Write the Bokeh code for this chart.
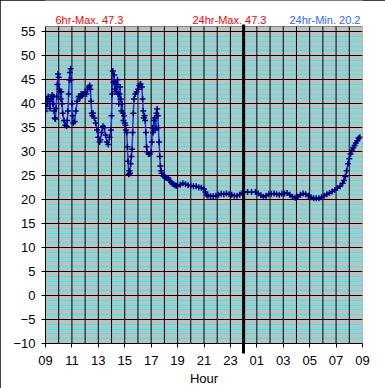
from bokeh.plotting import figure
from bokeh.models import Range1d, FixedTicker, Label
from bokeh.embed import file_html
from bokeh.resources import INLINE

# ---- data (hours after 09:00, temperature) ----
hours = [0.00, 0.05, 0.10, 0.15, 0.20, 0.30, 0.35, 0.40, 0.50, 0.55, 0.60, 0.65, 0.70, 0.75,
         0.80, 0.85, 0.90, 0.95, 1.00, 1.05, 1.10, 1.15, 1.20, 1.25, 1.30, 1.40, 1.50, 1.60,
         1.65, 1.70, 1.75, 1.80, 1.85, 1.90, 1.95, 2.00, 2.05, 2.10, 2.20, 2.30, 2.40, 2.50,
         2.60, 2.70, 2.80, 2.90, 3.00, 3.10, 3.20, 3.30, 3.35, 3.40, 3.45, 3.50, 3.55, 3.60,
         3.70, 3.80, 3.90, 4.00, 4.10, 4.15, 4.25, 4.35, 4.45, 4.55, 4.65, 4.75, 4.85, 4.95,
         5.00, 5.05, 5.10, 5.15, 5.20, 5.25, 5.30, 5.35, 5.40, 5.45, 5.50, 5.55, 5.60, 5.65,
         5.70, 5.75, 5.80, 5.85, 5.90, 5.95, 6.00, 6.05, 6.10, 6.15, 6.20, 6.25, 6.30, 6.35,
         6.40, 6.45, 6.50, 6.55, 6.60, 6.65, 6.70, 6.80, 6.90, 7.00, 7.10, 7.20, 7.30, 7.35,
         7.40, 7.45, 7.50, 7.55, 7.60, 7.65, 7.70, 7.80, 7.90, 8.00, 8.05, 8.10, 8.15, 8.20,
         8.25, 8.30, 8.35, 8.40, 8.45, 8.50, 8.55, 8.60, 8.65, 8.70, 8.75, 8.80, 8.90, 9.00,
         9.10, 9.20, 9.30, 9.40, 9.50, 9.60, 9.70, 9.80, 9.90, 10.0, 10.2, 10.4, 10.6, 10.8,
         11.0, 11.2, 11.4, 11.6, 11.8, 12.0, 12.1, 12.2, 12.3, 12.5, 12.7, 12.9, 13.1, 13.3,
         13.5, 13.7, 13.9, 14.1, 14.3, 14.5, 14.7, 14.9, 15.0, 15.3, 15.6, 15.9, 16.1, 16.3,
         16.5, 16.7, 16.9, 17.1, 17.3, 17.5, 17.7, 17.9, 18.1, 18.3, 18.5, 18.7, 18.9, 19.1,
         19.3, 19.5, 19.7, 19.9, 20.1, 20.3, 20.5, 20.7, 20.9, 21.1, 21.3, 21.5, 21.7, 21.9,
         22.1, 22.3, 22.5, 22.6, 22.7, 22.8, 22.9, 23.0, 23.1, 23.2, 23.3, 23.4, 23.5, 23.6,
         23.7, 23.8]
temps = [38.5, 39.5, 41.0, 40.0, 41.5, 40.5, 39.0, 41.0, 41.8, 40.0, 41.5, 38.5, 37.0, 36.8,
         39.0, 41.5, 44.0, 46.2, 45.5, 43.0, 42.5, 41.0, 42.5, 40.0, 38.0, 36.5, 35.5, 35.3,
         36.5, 38.5, 42.0, 45.0, 46.5, 47.3, 45.0, 40.0, 37.5, 36.0, 36.3, 38.5, 40.5, 41.5,
         41.2, 42.0, 41.8, 42.0, 42.5, 42.0, 43.0, 43.5, 43.8, 43.0, 40.5, 38.0, 37.5, 38.0,
         37.0, 36.0, 34.5, 33.0, 32.0, 32.5, 34.0, 35.3, 35.0, 33.5, 32.0, 31.5, 33.0, 34.5,
         37.5, 42.0, 46.8, 44.5, 46.0, 43.0, 44.5, 42.5, 44.0, 45.0, 42.0, 40.0, 42.0, 43.5,
         41.0, 38.5, 40.0, 38.0, 36.5, 37.5, 36.0, 35.5, 34.5, 34.0, 31.0, 28.0, 25.3, 26.0,
         25.5, 27.5, 29.0, 30.5, 34.0, 38.0, 41.0, 42.0, 42.5, 43.0, 43.8, 44.1, 43.5, 41.0,
         38.5, 37.0, 37.5, 36.5, 34.0, 31.0, 30.0, 29.5, 29.5, 30.0, 32.0, 35.0, 34.0, 36.5,
         37.0, 34.5, 35.0, 38.0, 38.9, 37.5, 35.0, 32.0, 29.0, 27.0, 26.0, 25.5, 25.0, 24.8,
         24.6, 24.5, 24.5, 24.0, 23.6, 23.3, 23.2, 23.0, 22.9, 22.9, 23.1, 23.4, 23.2, 23.0,
         22.9, 22.8, 22.8, 22.6, 22.5, 22.2, 21.6, 21.0, 20.8, 20.7, 20.7, 20.8, 21.0, 21.2,
         21.1, 21.3, 21.1, 21.0, 20.8, 20.8, 21.0, 21.4, 21.6, 21.6, 21.6, 21.6, 21.3, 20.9,
         20.6, 20.8, 21.1, 21.2, 21.3, 21.1, 21.0, 21.2, 21.3, 21.4, 21.0, 20.6, 20.4, 20.6,
         21.0, 21.3, 21.1, 20.8, 20.5, 20.3, 20.3, 20.3, 20.5, 20.8, 21.1, 21.4, 21.7, 22.0,
         22.4, 22.8, 23.4, 24.0, 24.8, 26.0, 27.5, 28.5, 29.5, 30.3, 30.8, 31.3, 31.8, 32.3,
         32.8, 33.0]

x_tick_values = [0, 2, 4, 6, 8, 10, 12, 14, 16, 18, 20, 22, 24]
x_tick_labels = ["09", "11", "13", "15", "17", "19", "21", "23", "01", "03", "05", "07", "09"]
y_major = [-10, -5, 0, 5, 10, 15, 20, 25, 30, 35, 40, 45, 50, 55]
y_minor = [v for v in range(-10, 56) if v % 5 != 0]
hour_lines = list(range(1, 24))
x_start, x_end = 0, 24
y_bottom, y_top = -10, 56.1
midnight = 15
midnight_top = 56.5

header_texts = ["6hr-Max. 47.3", "24hr-Max. 47.3", "24hr-Min. 20.2"]
header_colors = ["#FF0000", "#FF0000", "#3366FF"]
header_x = [10, 147, 244]

FONT = "Liberation Sans"

p = figure(width=385, height=388, output_backend="svg", toolbar_location=None,
           title=None, x_range=Range1d(x_start, x_end), y_range=Range1d(-10, 61.52),
           min_border_left=45, min_border_right=23, min_border_top=0,
           min_border_bottom=45)
p.background_fill_color = "white"
p.border_fill_color = "white"
p.outline_line_color = None
p.styles = {"outline": "1px solid black", "outline-offset": "-1px"}
p.xgrid.visible = False

# plot-area background (gray) with border
p.quad(left=[x_start], right=[x_end], bottom=[y_bottom], top=[y_top],
       fill_color="#C0C0C0", line_color="#808080", line_width=1, level="underlay")

# horizontal grid: black every 5, cyan every 1
p.ygrid.ticker = FixedTicker(ticks=y_major, minor_ticks=y_minor)
p.ygrid.grid_line_color = "#000000"
p.ygrid.grid_line_width = 1
p.ygrid.minor_grid_line_color = "#00FFFF"
p.ygrid.minor_grid_line_width = 1
p.ygrid.level = "underlay"

# hourly vertical grid
p.segment(x0=hour_lines, y0=[y_bottom] * len(hour_lines), x1=hour_lines,
          y1=[y_top] * len(hour_lines), line_color="#000000", line_width=1)

# axes
p.xaxis.ticker = FixedTicker(ticks=x_tick_values, minor_ticks=[midnight])
p.xaxis.major_label_overrides = {v: l for v, l in zip(x_tick_values, x_tick_labels)}
p.yaxis.ticker = FixedTicker(ticks=y_major)
p.yaxis.bounds = (y_bottom, y_top)
for ax in (p.xaxis[0], p.yaxis[0]):
    ax.axis_line_color = "black"
    ax.major_tick_line_color = "black"
    ax.major_tick_out = 4
    ax.major_tick_in = 0
    ax.major_label_text_font = FONT
    ax.major_label_text_font_size = "13px"
    ax.major_label_text_color = "black"
p.yaxis.minor_tick_line_color = None
p.xaxis.minor_tick_line_color = "black"
p.xaxis.minor_tick_line_width = 3
p.xaxis.minor_tick_out = 10
p.xaxis.minor_tick_in = 0
p.yaxis.major_label_standoff = 6
p.xaxis.major_label_standoff = 2
p.xaxis.axis_label = "Hour"
p.xaxis.axis_label_text_font = FONT
p.xaxis.axis_label_text_font_size = "13px"
p.xaxis.axis_label_text_font_style = "normal"
p.xaxis.axis_label_text_color = "black"
p.xaxis.axis_label_standoff = 3

# data
p.line(hours, temps, line_color="#2B2BD8", line_width=1.5)
p.scatter(hours, temps, marker="cross", size=6, line_color="#000080", line_width=1.5)

# midnight line
p.segment(x0=[midnight], y0=[y_bottom], x1=[midnight], y1=[midnight_top],
          line_color="black", line_width=3)

# header texts
for t, c, xx in zip(header_texts, header_colors, header_x):
    p.add_layout(Label(x=xx, y=324, x_units="screen", y_units="screen", text=t,
                       text_color=c, text_font=FONT, text_font_size="11px",
                       text_baseline="alphabetic", text_align="left"))

open("out.html", "w").write(file_html(p, INLINE))
